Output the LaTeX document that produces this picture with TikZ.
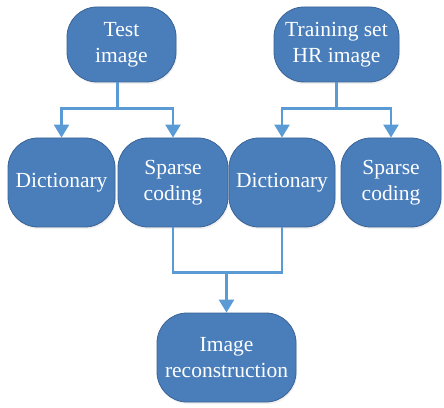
\documentclass[tikz,border=0pt]{standalone}
\usepackage{fontspec}
\setmainfont{Liberation Serif}
\usepackage{tikz}
\usetikzlibrary{calc}
\usetikzlibrary{arrows.meta}
\usetikzlibrary{shadows}
\definecolor{boxblue}{RGB}{74, 126, 187}
\definecolor{edgeblue}{RGB}{58, 99, 148}
\definecolor{linkblue}{RGB}{91, 155, 213}

\tikzset{
  stepbox/.style={draw=edgeblue, fill=boxblue, thick, rectangle, rounded corners=30pt,
    text=white, align=center, minimum height=89pt, inner sep=2pt,
    font=\fontsize{21.5}{26}\selectfont,
    drop shadow={opacity=0.12, shadow xshift=1pt, shadow yshift=-2pt}},
  link/.style={draw=linkblue, line width=2.4pt},
  arrow/.style={link, -{Triangle[width=15pt,length=13pt]}}
}

\begin{document}
\begin{tikzpicture}[x=1pt, y=1pt]
            % Frame to keep the page size:
            \useasboundingbox (0, 0) rectangle (444, 407);
            % top row
            \node[stepbox, minimum width=109pt, minimum height=75pt] (test)  at (121.5, 362.5) {Test\\image};
            \node[stepbox, minimum width=125pt, minimum height=75pt] (train) at (336.5, 362.5) {Training set\\HR image};
            % middle row
            \node[stepbox, minimum width=107pt] (dictL)   at ( 61.5, 224.5) {Dictionary};
            \node[stepbox, minimum width=110pt] (sparseL) at (173.0, 224.5) {Sparse\\coding};
            \node[stepbox, minimum width=106pt] (dictR)   at (282.0, 224.5) {Dictionary};
            \node[stepbox, minimum width=100pt] (sparseR) at (391.0, 224.5) {Sparse\\coding};
            % bottom row
            \node[stepbox, minimum width=139pt] (recon) at (226.5, 49.5) {Image\\reconstruction};

            % branch points
            \coordinate (tsplit) at ($(test.south)+(-4,-26)$);
            \coordinate (rsplit) at ($(train.south)+(0,-26)$);
            \coordinate (merge)  at ($(recon.north)+(0,40)$);

            \draw[link]  ($(test.south)+(-4,0)$) -- (tsplit);
            \draw[arrow] (tsplit) -| (dictL.north);
            \draw[arrow] (tsplit) -| (sparseL.north);
            \draw[link]  (train.south) -- (rsplit);
            \draw[arrow] (rsplit) -| (dictR.north);
            \draw[arrow] (rsplit) -| (sparseR.north);
            \draw[link]  (sparseL.south) |- (merge) -| (dictR.south);
            \draw[arrow] (merge) -- (recon.north);
        \end{tikzpicture}
\end{document}
